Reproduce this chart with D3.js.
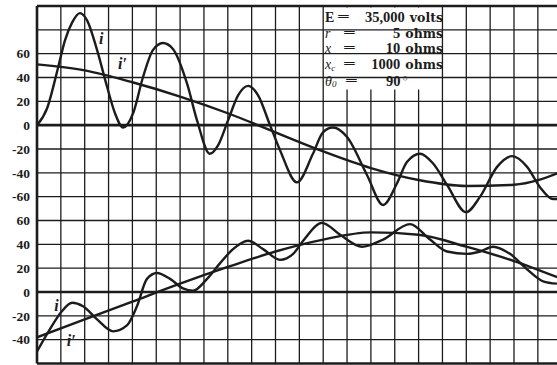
<!DOCTYPE html>
<html><head><meta charset="utf-8">
<script src="https://cdn.jsdelivr.net/npm/d3@7"></script>
<style>body{margin:0;background:#fff}svg{display:block}</style>
</head><body><svg id="c" width="557" height="365"></svg>
<script>
// ---- data (time in grid divisions, current values) ----
const upperIT = [0,0.42,0.88,1.17,1.47,1.80,2.10,2.52,2.94,3.27,3.61,4.03,4.44,4.86,5.28,5.70,6.29,6.71,7.25,7.59,8.01,8.43,8.85,9.27,9.77,10.19,10.90,11.57,11.99,12.41,13.00,13.84,14.51,15.09,15.51,16.06,16.60,17.19,17.99,18.58,19.29,19.92,20.55,21.09,21.64,21.93];
const upperI  = [0,14,48,71,86,94,88,63,32,10,-2,10,40,63,69,64,35,4,-24,-17,4,25,33,25,0,-21,-48,-24,-6,-2,-10,-42,-67,-49,-31,-24,-32,-50,-73,-60,-35,-26,-35,-52,-62,-62];
const upperIpT = [0,2,4,6,8,10,12,14,16,18,20,22];
const upperIp  = [51,46,36,24,10,-6,-22,-36,-46,-51,-50,-39];

const lowerIT = [0,0.55,1.05,1.47,1.93,2.52,3.19,3.77,4.19,4.61,5.03,5.58,6.12,6.54,7.13,7.67,8.22,8.85,9.48,10.19,10.74,11.16,11.95,12.71,13.63,14.51,15.64,16.48,17.19,18.03,18.58,19.12,19.83,20.55,21.22,21.80];
const lowerI  = [-50,-31,-16,-9,-12,-23,-33,-28,-12,11,16,11,3,1,11,24,36,43,36,27,32,43,58,48,38,44,57,44,34,32,34,38,32,19,9,7];
const lowerIpT = [0,2,4,6,8,10,12,14,16,18,20,22];
const lowerIp  = [-38,-23,-8,7,21,34,44,50,48,38,26,11];

const upperTicks = [60,40,20,0,-20,-40,-60];
const lowerTicks = [60,40,20,0,-20,-40];

const paramNames  = ["E","r","x","x","θ"];
const paramSubs   = ["","","","c","0"];
const paramNums   = ["35,000","5","10","1000","90"];
const paramUnits  = ["volts","ohms","ohms","ohms",""];

// ---- layout ----
const svg = d3.select("#c");
const X0 = 37, STEP = 23.85, TOP = 6, BOT = 363.5;
const x = d3.scaleLinear().domain([0,22]).range([X0, X0 + 22*STEP]);
const rowH = (BOT - TOP)/15;
const yU = d3.scaleLinear().domain([100,-80]).range([TOP, TOP + 9*rowH]);
const yL = d3.scaleLinear().domain([60,-60]).range([TOP + 9*rowH, BOT]);

const ink = "#1c1c1c";
const gGrid = svg.append("g");
gGrid.selectAll("line.v").data(d3.range(0,23)).join("line")
  .attr("x1", d=>x(d)).attr("x2", d=>x(d)).attr("y1", TOP).attr("y2", BOT)
  .attr("stroke", ink).attr("stroke-width", d=> d===0 ? 2.6 : 1.3);
svg.append("rect").attr("x", x(12)+1.5).attr("y", TOP+1.5)
  .attr("width", x(17)-x(12)-3).attr("height", 82).attr("fill", "#fff");
const hLines = d3.range(100,-81,-20).map(v=>({y:yU(v), thick: v===100 || v===0}))
  .concat(d3.range(40,-61,-20).map(v=>({y:yL(v), thick: v===0 || v===-60})));
svg.append("g").selectAll("line").data(hLines).join("line")
  .attr("x1", X0).attr("x2", 557).attr("y1", d=>d.y).attr("y2", d=>d.y)
  .attr("stroke", ink).attr("stroke-width", d=> d.thick ? 2.6 : 1.3);

// curves
svg.append("clipPath").attr("id","pc").append("rect")
  .attr("x", X0).attr("y", TOP).attr("width", 557-X0).attr("height", BOT-TOP);
function drawCurve(ts, vs, yScale) {
  const pts = ts.map((t,i)=>[t, vs[i]]);
  const line = d3.line().x(d=>x(d[0])).y(d=>yScale(d[1])).curve(d3.curveMonotoneX);
  svg.append("path").attr("d", line(pts)).attr("fill","none")
    .attr("stroke", ink).attr("stroke-width", 2.4).attr("clip-path","url(#pc)")
    .attr("stroke-linejoin","round");
}
drawCurve(upperIT, upperI, yU);
drawCurve(upperIpT, upperIp, yU);
drawCurve(lowerIT, lowerI, yL);
drawCurve(lowerIpT, lowerIp, yL);

// axes labels
const fmt = d => d < 0 ? "-" + Math.abs(d) : String(d);
function axis(scale, ticks) {
  const g = svg.append("g").attr("transform", `translate(${X0},0)`)
    .call(d3.axisLeft(scale).tickValues(ticks).tickSize(0).tickPadding(7).tickFormat(fmt));
  g.select(".domain").remove();
  g.selectAll("text").attr("font-family","Liberation Serif, serif").attr("font-weight","bold")
    .attr("font-size", 13.5).attr("fill", ink);
}
axis(yU, upperTicks);
axis(yL, lowerTicks);

// curve labels
const lab = (t, v, ys, txt) => svg.append("text").attr("x", x(t)).attr("y", ys(v))
  .attr("font-family","Liberation Serif, serif").attr("font-style","italic").attr("font-weight","bold")
  .attr("font-size", 16).attr("fill", ink).text(txt);
lab(2.6, 68, yU, "i");
lab(3.4, 47, yU, "i′");
lab(0.72, -16, yL, "i");
lab(1.25, -45, yL, "i′");

// parameter block
const serif = "Liberation Serif, serif";
const wide = "DejaVu Serif, serif";
const rowsY = [22, 37.5, 53, 69, 85.5];
const eqX = [337, 343, 343, 343, 345];
paramNames.forEach((n,i)=>{
  const t = svg.append("text").attr("x", 325).attr("y", rowsY[i])
    .attr("font-family", serif).attr("font-size", 14).attr("fill", ink)
    .attr("font-style", i===0 ? "normal" : "italic").attr("font-weight", i===0 ? "bold" : "normal");
  t.append("tspan").text(n);
  if (paramSubs[i]) t.append("tspan").attr("font-size", 9).attr("dy", 1.5).text(paramSubs[i]);
  svg.append("text").attr("x", eqX[i]).attr("y", rowsY[i] - 1).attr("font-family", serif)
    .attr("font-weight","bold").attr("font-size", 13).attr("fill", ink)
    .attr("textLength", 13).attr("lengthAdjust", "spacingAndGlyphs").text("=");
  const v = svg.append("text").attr("y", rowsY[i]).attr("fill", ink);
  if (paramUnits[i]) {
    v.attr("x", 443).attr("text-anchor","end");
    v.append("tspan").attr("font-family", serif).attr("font-weight","bold").attr("font-size", 14.5).text(paramNums[i]);
    v.append("tspan").attr("font-family", wide).attr("font-weight","bold").attr("font-size", 12.5)
      .attr("dx", 5).text(paramUnits[i]);
  } else {
    v.attr("x", 386).attr("font-family", serif).attr("font-weight","bold").attr("font-size", 14.5).text(paramNums[i]);
    v.append("tspan").attr("font-size", 9).attr("font-weight","normal").attr("dy", -5).attr("dx", 2).text("○");
  }
});
</script></body></html>
